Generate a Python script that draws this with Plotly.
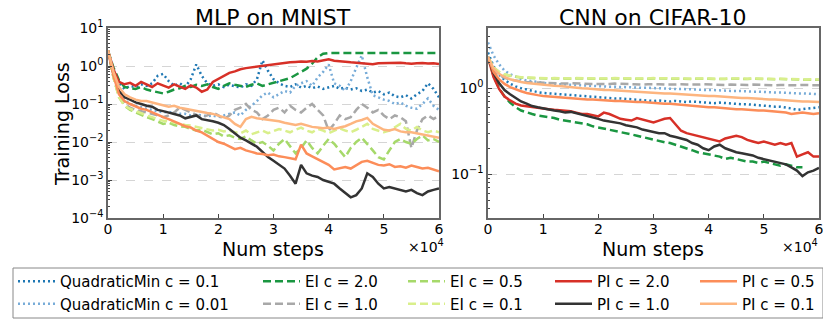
import plotly.graph_objects as go

W, H = 831, 321
FONT = "DejaVu Sans"
# the page body adds an 8px margin around the figure; positions below are in
# screen pixels and get shifted back by this amount
OFF = 8

# training steps (every 1000)
STEPS = [i * 1000 for i in range(61)]

# ---------- MLP on MNIST ----------
mlp_qm_01 = [2.5, 0.8, 0.35, 0.25, 0.30, 0.28, 0.33, 0.30, 0.35, 0.55, 0.62, 0.40, 0.30, 0.35, 0.28, 0.45,
             1.10, 0.55, 0.35, 0.30, 0.33, 0.28, 0.32, 0.30, 0.27, 0.33, 0.30, 0.45, 1.40, 0.75, 0.45, 0.35,
             0.30, 0.28, 0.33, 0.27, 0.30, 0.26, 0.29, 0.25, 0.28, 0.30, 0.25, 0.27, 0.24, 0.26, 0.22, 0.24,
             0.20, 0.22, 0.18, 0.20, 0.16, 0.15, 0.17, 0.14, 0.18, 0.22, 0.35, 0.25, 0.15]
mlp_qm_001 = [2.6, 0.6, 0.22, 0.13, 0.10, 0.09, 0.08, 0.075, 0.07, 0.065, 0.06, 0.062, 0.058, 0.055, 0.055,
              0.05, 0.052, 0.05, 0.048, 0.05, 0.045, 0.05, 0.055, 0.06, 0.05, 0.07, 0.09, 0.12, 0.17, 0.2,
              0.15, 0.18, 0.22, 0.2, 0.3, 0.35, 0.4, 0.3, 0.5, 0.7, 1.1, 0.35, 0.3, 0.22, 0.4, 0.9, 1.9, 0.5,
              0.17, 0.15, 0.13, 0.12, 0.1, 0.11, 0.09, 0.08, 0.075, 0.1, 0.14, 0.09, 0.07]
mlp_ei_20 = [2.5, 0.9, 0.42, 0.28, 0.26, 0.25, 0.28, 0.24, 0.22, 0.20, 0.19, 0.21, 0.24, 0.26, 0.30, 0.28,
             0.32, 0.30, 0.33, 0.28, 0.25, 0.30, 0.35, 0.32, 0.30, 0.28, 0.32, 0.35, 0.30, 0.33, 0.36, 0.40,
             0.42, 0.48, 0.58, 0.70, 0.85, 1.15, 1.70, 2.1, 2.2, 2.2, 2.2, 2.2, 2.2, 2.2, 2.2, 2.2, 2.2, 2.2,
             2.2, 2.2, 2.2, 2.2, 2.2, 2.2, 2.2, 2.2, 2.2, 2.2, 2.2]
mlp_ei_10 = [2.6, 0.5, 0.16, 0.1, 0.08, 0.07, 0.065, 0.06, 0.055, 0.05, 0.045, 0.05, 0.06, 0.08, 0.07, 0.06,
             0.05, 0.045, 0.05, 0.06, 0.05, 0.04, 0.05, 0.07, 0.08, 0.1, 0.07, 0.06, 0.04, 0.05, 0.07, 0.08,
             0.06, 0.09, 0.07, 0.06, 0.08, 0.1, 0.07, 0.05, 0.02, 0.03, 0.05, 0.04, 0.045, 0.07, 0.1, 0.08,
             0.06, 0.07, 0.05, 0.04, 0.05, 0.045, 0.035, 0.007, 0.02, 0.04, 0.05, 0.04, 0.05]
mlp_ei_05 = [2.6, 0.5, 0.15, 0.09, 0.07, 0.06, 0.05, 0.045, 0.04, 0.035, 0.03, 0.032, 0.028, 0.026, 0.025,
             0.022, 0.02, 0.021, 0.018, 0.016, 0.017, 0.014, 0.015, 0.013, 0.012, 0.014, 0.011, 0.009, 0.01,
             0.008, 0.006, 0.009, 0.012, 0.008, 0.005, 0.007, 0.011, 0.007, 0.005, 0.008, 0.012, 0.009, 0.006,
             0.004, 0.007, 0.01, 0.013, 0.009, 0.006, 0.004, 0.0035, 0.006, 0.01, 0.012, 0.01, 0.009, 0.012,
             0.015, 0.011, 0.012, 0.01]
mlp_ei_01 = [2.6, 0.5, 0.15, 0.09, 0.075, 0.065, 0.055, 0.05, 0.045, 0.04, 0.036, 0.035, 0.032, 0.03, 0.028,
             0.027, 0.025, 0.024, 0.022, 0.02, 0.021, 0.019, 0.02, 0.018, 0.017, 0.02, 0.016, 0.018, 0.02,
             0.017, 0.019, 0.022, 0.02, 0.018, 0.021, 0.024, 0.02, 0.018, 0.022, 0.02, 0.017, 0.02, 0.023,
             0.02, 0.018, 0.021, 0.025, 0.03, 0.022, 0.02, 0.018, 0.02, 0.025, 0.03, 0.022, 0.02, 0.025, 0.02,
             0.018, 0.02, 0.018]
mlp_pi_20 = [2.5, 0.8, 0.38, 0.33, 0.36, 0.30, 0.38, 0.32, 0.28, 0.35, 0.30, 0.27, 0.33, 0.28, 0.25, 0.31,
             0.27, 0.21, 0.24, 0.38, 0.46, 0.55, 0.66, 0.72, 0.82, 0.88, 0.92, 1.0, 1.02, 1.08, 1.12, 1.15,
             1.20, 1.25, 1.28, 1.32, 1.30, 1.35, 1.32, 1.38, 1.50, 1.38, 1.32, 1.28, 1.25, 1.22, 1.20, 1.15,
             1.12, 1.18, 1.20, 1.17, 1.20, 1.22, 1.18, 1.15, 1.18, 1.20, 1.16, 1.18, 1.12]
mlp_pi_10 = [2.5, 0.6, 0.22, 0.15, 0.13, 0.11, 0.1, 0.09, 0.085, 0.07, 0.065, 0.06, 0.055, 0.05, 0.042,
             0.045, 0.05, 0.04, 0.038, 0.035, 0.032, 0.028, 0.022, 0.017, 0.013, 0.011, 0.009, 0.0075, 0.0055,
             0.004, 0.0032, 0.0025, 0.002, 0.0013, 0.0008, 0.0025, 0.0015, 0.0013, 0.0012, 0.001, 0.0009,
             0.0008, 0.0006, 0.00045, 0.00035, 0.0004, 0.0006, 0.0015, 0.0012, 0.0008, 0.0006, 0.00065,
             0.0006, 0.00055, 0.0005, 0.00055, 0.00045, 0.0004, 0.0005, 0.00055, 0.0006]
mlp_pi_05 = [2.5, 0.55, 0.18, 0.12, 0.1, 0.085, 0.075, 0.07, 0.06, 0.052, 0.045, 0.04, 0.035, 0.03, 0.026,
             0.024, 0.02, 0.018, 0.015, 0.012, 0.01, 0.009, 0.0075, 0.0065, 0.007, 0.006, 0.0055, 0.005,
             0.0048, 0.0045, 0.0047, 0.0042, 0.004, 0.0037, 0.0035, 0.0085, 0.005, 0.0042, 0.0035, 0.003,
             0.0025, 0.0019, 0.002, 0.0022, 0.002, 0.0025, 0.003, 0.0032, 0.0028, 0.0025, 0.0024, 0.0026,
             0.0022, 0.0023, 0.0021, 0.0024, 0.0022, 0.002, 0.0021, 0.0019, 0.0017]
mlp_pi_01 = [2.6, 0.7, 0.28, 0.18, 0.15, 0.13, 0.12, 0.12, 0.11, 0.1, 0.09, 0.085, 0.09, 0.08, 0.075, 0.07,
             0.065, 0.06, 0.058, 0.055, 0.05, 0.045, 0.04, 0.03, 0.025, 0.04, 0.046, 0.042, 0.04, 0.038,
             0.037, 0.035, 0.032, 0.03, 0.028, 0.03, 0.027, 0.025, 0.024, 0.023, 0.024, 0.022, 0.024, 0.026,
             0.03, 0.035, 0.038, 0.043, 0.03, 0.025, 0.021, 0.02, 0.022, 0.019, 0.018, 0.018, 0.017, 0.016,
             0.015, 0.014, 0.013]

# ---------- CNN on CIFAR-10 ----------
cnn_qm_01 = [2.6, 1.8, 1.45, 1.25, 1.13, 1.05, 1.0, 0.96, 0.93, 0.9, 0.88, 0.87, 0.86, 0.85, 0.84, 0.83,
             0.82, 0.81, 0.8, 0.79, 0.78, 0.78, 0.77, 0.76, 0.76, 0.75, 0.74, 0.74, 0.73, 0.72, 0.71, 0.72,
             0.71, 0.7, 0.71, 0.7, 0.69, 0.7, 0.69, 0.68, 0.68, 0.67, 0.68, 0.67, 0.66, 0.66, 0.65, 0.65,
             0.64, 0.63, 0.63, 0.62, 0.61, 0.61, 0.6, 0.58, 0.56, 0.57, 0.59, 0.6, 0.6]
cnn_qm_001 = [3.4, 2.4, 1.9, 1.6, 1.45, 1.35, 1.28, 1.23, 1.2, 1.17, 1.15, 1.13, 1.12, 1.11, 1.1, 1.09,
              1.08, 1.08, 1.07, 1.06, 1.05, 1.05, 1.04, 1.04, 1.03, 1.03, 1.02, 1.02, 1.01, 1.01, 1.0, 1.0,
              0.99, 0.99, 0.98, 0.98, 0.97, 0.97, 0.96, 0.96, 0.95, 0.95, 0.94, 0.94, 0.93, 0.93, 0.92, 0.92,
              0.91, 0.91, 0.9, 0.9, 0.89, 0.89, 0.88, 0.88, 0.87, 0.87, 0.86, 0.86, 0.85]
cnn_ei_20 = [2.3, 1.4, 1.0, 0.8, 0.68, 0.6, 0.55, 0.52, 0.5, 0.48, 0.47, 0.46, 0.45, 0.43, 0.42, 0.41, 0.4,
             0.39, 0.38, 0.36, 0.35, 0.34, 0.33, 0.32, 0.31, 0.3, 0.29, 0.28, 0.27, 0.26, 0.25, 0.24, 0.235,
             0.23, 0.22, 0.21, 0.2, 0.19, 0.18, 0.175, 0.17, 0.165, 0.16, 0.15, 0.155, 0.15, 0.145, 0.14,
             0.14, 0.135, 0.14, 0.135, 0.13, 0.125, 0.13, 0.125, 0.12, 0.12]
cnn_ei_10 = [2.3, 1.65, 1.42, 1.32, 1.26, 1.22, 1.2, 1.18, 1.17, 1.16, 1.15, 1.14, 1.15, 1.14, 1.13, 1.14,
             1.13, 1.12, 1.13, 1.12, 1.12, 1.11, 1.12, 1.13, 1.12, 1.11, 1.12, 1.11, 1.1, 1.11, 1.12, 1.11,
             1.1, 1.11, 1.1, 1.11, 1.1, 1.09, 1.1, 1.11, 1.1, 1.09, 1.1, 1.09, 1.1, 1.09, 1.08, 1.09, 1.1,
             1.09, 1.08, 1.09, 1.08, 1.09, 1.08, 1.07, 1.08, 1.09, 1.08, 1.07, 1.08]
cnn_ei_05 = [2.3, 1.74, 1.54, 1.44, 1.39, 1.35, 1.33, 1.32, 1.31, 1.3, 1.3, 1.29, 1.3, 1.29, 1.28, 1.29,
             1.3, 1.29, 1.28, 1.29, 1.29, 1.28, 1.29, 1.3, 1.29, 1.28, 1.29, 1.29, 1.28, 1.29, 1.3, 1.29,
             1.28, 1.29, 1.29, 1.28, 1.27, 1.28, 1.29, 1.3, 1.29, 1.28, 1.27, 1.28, 1.29, 1.28, 1.27, 1.28,
             1.29, 1.28, 1.27, 1.26, 1.27, 1.28, 1.27, 1.26, 1.27, 1.26, 1.25, 1.26, 1.25]
cnn_ei_01 = [2.3, 1.75, 1.55, 1.45, 1.4, 1.36, 1.34, 1.33, 1.32, 1.31, 1.31, 1.3, 1.31, 1.3, 1.29, 1.3,
             1.31, 1.3, 1.29, 1.3, 1.3, 1.29, 1.3, 1.31, 1.3, 1.29, 1.3, 1.3, 1.29, 1.3, 1.31, 1.3, 1.29,
             1.3, 1.3, 1.29, 1.28, 1.29, 1.3, 1.31, 1.3, 1.29, 1.28, 1.29, 1.3, 1.29, 1.28, 1.29, 1.3, 1.29,
             1.28, 1.27, 1.28, 1.29, 1.28, 1.27, 1.28, 1.27, 1.26, 1.27, 1.26]
cnn_pi_20 = [2.3, 1.35, 0.98, 0.8, 0.72, 0.66, 0.63, 0.62, 0.6, 0.6, 0.58, 0.57, 0.56, 0.55, 0.55, 0.54,
             0.52, 0.5, 0.5, 0.48, 0.47, 0.52, 0.5, 0.47, 0.44, 0.43, 0.42, 0.45, 0.43, 0.41, 0.4, 0.42,
             0.44, 0.45, 0.38, 0.32, 0.3, 0.29, 0.28, 0.27, 0.26, 0.25, 0.24, 0.26, 0.27, 0.28, 0.27, 0.25,
             0.24, 0.23, 0.24, 0.23, 0.22, 0.23, 0.22, 0.23, 0.16, 0.17, 0.18, 0.16, 0.16]
cnn_pi_10 = [2.3, 1.5, 1.15, 0.95, 0.85, 0.77, 0.7, 0.66, 0.62, 0.6, 0.58, 0.57, 0.55, 0.54, 0.52, 0.53,
             0.51, 0.5, 0.48, 0.46, 0.44, 0.42, 0.41, 0.4, 0.39, 0.37, 0.36, 0.35, 0.33, 0.32, 0.31, 0.3,
             0.3, 0.28, 0.27, 0.26, 0.25, 0.23, 0.22, 0.2, 0.19, 0.21, 0.22, 0.2, 0.19, 0.18, 0.175, 0.17,
             0.165, 0.155, 0.15, 0.145, 0.14, 0.135, 0.13, 0.12, 0.11, 0.095, 0.105, 0.11, 0.118]
cnn_pi_05 = [2.3, 1.55, 1.27, 1.12, 1.03, 0.97, 0.92, 0.88, 0.85, 0.83, 0.81, 0.8, 0.79, 0.78, 0.77, 0.77,
             0.76, 0.75, 0.74, 0.74, 0.73, 0.72, 0.72, 0.71, 0.71, 0.7, 0.7, 0.69, 0.69, 0.68, 0.67, 0.67,
             0.66, 0.66, 0.65, 0.64, 0.63, 0.63, 0.62, 0.61, 0.6, 0.6, 0.59, 0.59, 0.58, 0.57, 0.57, 0.56,
             0.56, 0.55, 0.55, 0.54, 0.53, 0.53, 0.52, 0.5, 0.51, 0.52, 0.51, 0.5, 0.51]
cnn_pi_01 = [2.3, 1.7, 1.47, 1.35, 1.27, 1.22, 1.18, 1.15, 1.13, 1.11, 1.09, 1.08, 1.07, 1.06, 1.04, 1.02,
             1.01, 1.0, 0.99, 0.97, 0.96, 0.95, 0.95, 0.94, 0.93, 0.93, 0.92, 0.91, 0.9, 0.89, 0.88, 0.88,
             0.87, 0.87, 0.86, 0.85, 0.85, 0.84, 0.83, 0.82, 0.81, 0.81, 0.8, 0.8, 0.79, 0.78, 0.77, 0.77,
             0.76, 0.76, 0.75, 0.74, 0.74, 0.73, 0.72, 0.72, 0.71, 0.7, 0.7, 0.69, 0.69]

X_TICKS = [0, 10000, 20000, 30000, 40000, 50000, 60000]
X_TICKTEXT = ["0", "1", "2", "3", "4", "5", "6"]

# name, colour, dash, legend column, mlp data, cnn data
SERIES = [
    ("QuadraticMin c = 0.1", "#1f78b4", "2px,3px", "legend", mlp_qm_01, cnn_qm_01),
    ("QuadraticMin c = 0.01", "#78acd8", "2px,3px", "legend", mlp_qm_001, cnn_qm_001),
    ("EI c = 2.0", "#1a9641", "8px,4px", "legend2", mlp_ei_20, cnn_ei_20),
    ("EI c = 1.0", "#a8a8a8", "8px,4px", "legend2", mlp_ei_10, cnn_ei_10),
    ("EI c = 0.5", "#a6d96a", "8px,4px", "legend3", mlp_ei_05, cnn_ei_05),
    ("EI c = 0.1", "#d9ef8b", "8px,4px", "legend3", mlp_ei_01, cnn_ei_01),
    ("PI c = 2.0", "#d73027", "solid", "legend4", mlp_pi_20, cnn_pi_20),
    ("PI c = 1.0", "#333333", "solid", "legend4", mlp_pi_10, cnn_pi_10),
    ("PI c = 0.5", "#fc8d59", "solid", "legend5", mlp_pi_05, cnn_pi_05),
    ("PI c = 0.1", "#fdb57f", "solid", "legend5", mlp_pi_01, cnn_pi_01),
]


def px(x):
    return (x - OFF) / W


def py(y):
    return 1 - (y - OFF) / H


fig = go.Figure()
for name, color, dash, leg, mlp, cnn in SERIES:
    fig.add_trace(go.Scatter(x=STEPS[:len(mlp)], y=mlp, mode="lines", name=name, legend=leg,
                             line=dict(color=color, width=2.5, dash=dash), xaxis="x", yaxis="y"))
    fig.add_trace(go.Scatter(x=STEPS[:len(cnn)], y=cnn, mode="lines", name=name, showlegend=False,
                             line=dict(color=color, width=2.5, dash=dash), xaxis="x2", yaxis="y2"))

axis_common = dict(showline=True, linecolor="#666666", linewidth=1.5, mirror=True,
                   ticks="inside", ticklen=4, tickcolor="#444444", tickwidth=1,
                   tickfont=dict(family=FONT, size=14, color="black"), zeroline=False)

x_common = dict(axis_common, range=[0, 60000], tickvals=X_TICKS, ticktext=X_TICKTEXT, showgrid=False,
                ticklabelstandoff=-3)
y_common = dict(axis_common, type="log", showgrid=True, gridcolor="#d5d5d5", griddash="dash", gridwidth=1,
                minor=dict(ticks="inside", ticklen=2.5, tickcolor="#444444", dtick="D1", showgrid=False))

fig.update_layout(
    width=W, height=H,
    margin=dict(l=0, r=0, t=0, b=0, autoexpand=False),
    paper_bgcolor="white", plot_bgcolor="white",
    font=dict(family=FONT, color="black"),
    xaxis=dict(x_common, domain=[px(108), px(439)], anchor="y"),
    yaxis=dict(y_common, domain=[py(218), py(28)], anchor="x", range=[-4, 1],
               tickvals=[1e-4, 1e-3, 1e-2, 1e-1, 1, 10],
               ticktext=["10<sup>−4</sup>", "10<sup>−3</sup>", "10<sup>−2</sup>", "10<sup>−1</sup>",
                         "10<sup>0</sup>", "10<sup>1</sup>"]),
    xaxis2=dict(x_common, domain=[px(488), px(819)], anchor="y2"),
    yaxis2=dict(y_common, domain=[py(218), py(28)], anchor="x2", range=[-1.51, 0.70],
                tickvals=[0.1, 1], ticktext=["10<sup>−1</sup>", "10<sup>0</sup>"]),
    showlegend=True,
)

legend_cols = [("legend", 13), ("legend2", 258), ("legend3", 403), ("legend4", 550), ("legend5", 695)]
for key, left in legend_cols:
    fig.update_layout({key: dict(x=px(left), y=py(265), xanchor="left", yanchor="top",
                                 orientation="v", bgcolor="rgba(0,0,0,0)", borderwidth=0,
                                 font=dict(family=FONT, size=15, color="black"),
                                 itemwidth=37, tracegroupgap=0)})

# legend frame
fig.add_shape(type="rect", xref="paper", yref="paper", x0=px(13), x1=px(823), y0=py(318), y1=py(268),
              line=dict(color="#888888", width=1), fillcolor="rgba(0,0,0,0)")

ann = [
    dict(text="MLP on MNIST", x=px(273), y=py(17), size=22),
    dict(text="CNN on CIFAR-10", x=px(653), y=py(17), size=22),
    dict(text="Num steps", x=px(273), y=py(249), size=19),
    dict(text="Num steps", x=px(653), y=py(249), size=19),
    dict(text="×10<sup>4</sup>", x=px(426), y=py(246), size=14),
    dict(text="×10<sup>4</sup>", x=px(800), y=py(246), size=14),
]
for a in ann:
    fig.add_annotation(text=a["text"], x=a["x"], y=a["y"], xref="paper", yref="paper",
                       xanchor="center", yanchor="middle", showarrow=False,
                       font=dict(family=FONT, size=a["size"], color="black"))
fig.add_annotation(text="Training Loss", x=px(62), y=py(124), xref="paper", yref="paper", textangle=-90,
                   xanchor="center", yanchor="middle", showarrow=False,
                   font=dict(family=FONT, size=19, color="black"))

fig.write_html("out.html")
